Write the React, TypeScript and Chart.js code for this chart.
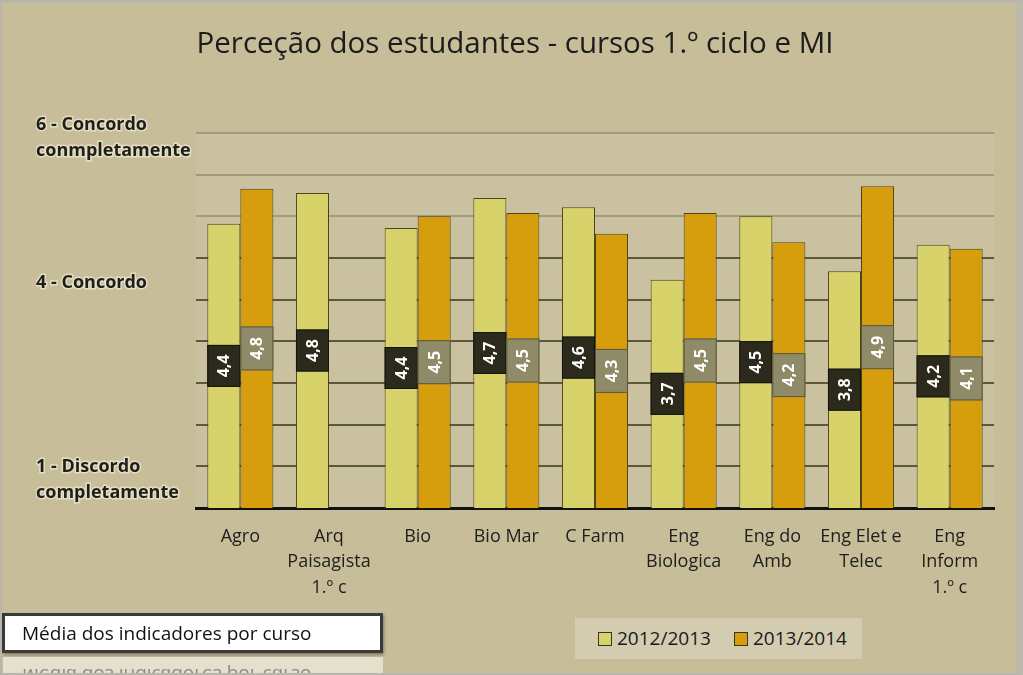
import React, { useEffect, useRef } from "react";
import { Chart, registerables } from "chart.js";

Chart.register(...registerables);

const categories: string[][] = [
  ["Agro"],
  ["Arq", "Paisagista", "1.º c"],
  ["Bio"],
  ["Bio Mar"],
  ["C Farm"],
  ["Eng", "Biologica"],
  ["Eng do", "Amb"],
  ["Eng Elet e", "Telec"],
  ["Eng", "Inform", "1.º c"],
];
const series2012: (number | null)[] = [4.41, 4.78, 4.36, 4.72, 4.61, 3.74, 4.5, 3.84, 4.16];
const series2013: (number | null)[] = [4.83, null, 4.5, 4.54, 4.29, 4.54, 4.19, 4.86, 4.11];
const seriesNames = ["2012/2013", "2013/2014"];
const axisLabelValues = [1.34, 3.7, 5.44];
const axisLabelTexts: string[][] = [
  ["1 - Discordo", "completamente"],
  ["4 - Concordo"],
  ["6 - Concordo", "conmpletamente"],
];
const titleText = "Perceção dos estudantes - cursos 1.º ciclo e MI";
const noteText = "Média dos indicadores por curso";

const COLORS = ["#D8D26A", "#D69D0C"];
const BOX_COLORS = ["#2C2A1C", "#8F8B68"];
const FONT = "'Open Sans', 'DejaVu Sans', sans-serif";

const plotBg = {
  id: "plotBg",
  beforeDraw(chart: any) {
    const { ctx, chartArea } = chart;
    ctx.save();
    ctx.fillStyle = "#CAC1A0";
    ctx.fillRect(chartArea.left, chartArea.top, chartArea.right - chartArea.left, chartArea.bottom - chartArea.top);
    ctx.restore();
  },
};

const valueBoxes = {
  id: "valueBoxes",
  afterDatasetsDraw(chart: any) {
    const { ctx, chartArea } = chart;
    chart.data.datasets.forEach((ds: any, di: number) => {
      const meta = chart.getDatasetMeta(di);
      meta.data.forEach((bar: any, i: number) => {
        const v = ds.data[i];
        if (v == null) return;
        const props = bar.getProps(["x", "y", "base", "width"], true);
        const base = Math.min(props.base, chartArea.bottom);
        const mid = (props.y + base) / 2;
        const w = props.width;
        const h = di === 0 ? 42 : 44;
        ctx.save();
        ctx.fillStyle = BOX_COLORS[di];
        ctx.fillRect(props.x - w / 2, mid - h / 2, w, h);
        ctx.strokeStyle = di === 0 ? "#15140c" : "#5d5838";
        ctx.lineWidth = 1;
        ctx.strokeRect(props.x - w / 2 + 0.5, mid - h / 2 + 0.5, w - 1, h - 1);
        ctx.translate(props.x, mid);
        ctx.rotate(-Math.PI / 2);
        ctx.fillStyle = "#FFFFFF";
        ctx.font = `bold 16px ${FONT}`;
        ctx.textAlign = "center";
        ctx.textBaseline = "middle";
        ctx.fillText(v.toFixed(1).replace(".", ","), 0, 1);
        ctx.restore();
      });
    });
  },
};

export default function App() {
  const canvasRef = useRef<HTMLCanvasElement | null>(null);

  useEffect(() => {
    if (!canvasRef.current) return;
    const chart = new Chart(canvasRef.current, {
      type: "bar",
      data: {
        labels: categories,
        datasets: [
          {
            label: seriesNames[0],
            data: series2012,
            backgroundColor: COLORS[0],
            borderColor: "#4f4418",
            borderWidth: 1,
            categoryPercentage: 0.745,
            barPercentage: 1,
          },
          {
            label: seriesNames[1],
            data: series2013,
            backgroundColor: COLORS[1],
            borderColor: "#4f4418",
            borderWidth: 1,
            categoryPercentage: 0.745,
            barPercentage: 1,
          },
        ],
      },
      options: {
        animation: false,
        responsive: false,
        maintainAspectRatio: false,
        layout: { padding: { left: 36, right: 29, top: 0, bottom: 0 } },
        plugins: {
          legend: { display: false },
          tooltip: { enabled: false },
          title: {
            display: true,
            text: titleText,
            color: "#1c1c1c",
            font: { family: FONT, size: 29.5, weight: "normal", lineHeight: 1.2 },
            padding: { top: 27.3, bottom: 70.3 },
          },
        },
        scales: {
          x: {
            grid: { display: false, drawTicks: false },
            border: { display: true, color: "#111111", width: 3 },
            ticks: {
              color: "#1e1e1e",
              font: { family: FONT, size: 18, lineHeight: 25.5 / 18 },
              padding: 16,
              maxRotation: 0,
              autoSkip: false,
            },
            afterFit: (s: any) => {
              s.height = 167;
            },
          },
          yl: {
            position: "left",
            min: 1,
            max: 5.5,
            grid: { display: false, drawTicks: false },
            border: { display: false },
            afterBuildTicks: (axis: any) => {
              axis.ticks = axisLabelValues.map((v) => ({ value: v }));
            },
            ticks: {
              autoSkip: false,
              crossAlign: "far",
              padding: 0,
              color: "#1e1e1e",
              textStrokeColor: "rgba(238,234,205,0.75)",
              textStrokeWidth: 3,
              font: { family: FONT, size: 18, weight: "bold", lineHeight: 26 / 18 },
              callback: (_v: any, i: number) => axisLabelTexts[i],
            },
            afterFit: (s: any) => {
              s.width = 160;
            },
          },
          y: {
            position: "left",
            min: 1,
            max: 5.5,
            ticks: { display: false, stepSize: 0.5 },
            border: { display: false },
            grid: {
              drawTicks: false,
              lineWidth: 2,
              color: (c: any) => (c.tick && c.tick.value > 4.01 ? "#A39A7A" : "#5E573C"),
            },
            afterFit: (s: any) => {
              s.width = 0;
            },
          },
        },
      } as any,
      plugins: [plotBg, valueBoxes],
    });
    return () => chart.destroy();
  }, []);

  return (
    <div
      style={{
        position: "fixed",
        left: 0,
        top: 0,
        width: 1023,
        height: 675,
        background: "#C7BD99",
        overflow: "hidden",
        fontFamily: FONT,
      }}
    >
      <canvas ref={canvasRef} width={1023} height={675} style={{ position: "absolute", left: 0, top: 0, width: 1023, height: 675 }} />
      {/* legend */}
      <div
        style={{
          position: "absolute",
          left: 575,
          top: 618,
          width: 287,
          height: 41,
          background: "#D3CCB0",
        }}
      >
        {seriesNames.map((name, i) => (
          <div key={name} style={{ position: "absolute", left: i === 0 ? 23 : 159, top: 0, height: 41, display: "flex", alignItems: "center" }}>
            <div
              style={{
                width: 14,
                height: 14,
                boxSizing: "border-box",
                border: "1px solid #3a3420",
                background: COLORS[i],
                marginRight: 5,
              }}
            />
            <span style={{ fontSize: 19, color: "#1a1a1a", lineHeight: "41px" }}>{name}</span>
          </div>
        ))}
      </div>
      {/* note box */}
      <div
        style={{
          position: "absolute",
          left: 2,
          top: 613,
          width: 381,
          height: 40,
          boxSizing: "border-box",
          border: "3px solid #3a3a3a",
          background: "#FFFFFF",
          boxShadow: "1px 2px 3px rgba(0,0,0,0.35)",
          paddingLeft: 17,
          fontSize: 19,
          lineHeight: "34px",
          color: "#111",
          whiteSpace: "nowrap",
        }}
      >
        {noteText}
      </div>
      {/* reflection */}
      <div
        style={{
          position: "absolute",
          left: 3,
          top: 657,
          width: 380,
          height: 18,
          overflow: "hidden",
          background: "#E4E0CE",
        }}
      >
        <div
          style={{
            position: "absolute",
            left: -1,
            top: -4,
            width: 381,
            height: 40,
            transform: "scaleY(-1)",
            paddingLeft: 20,
            fontSize: 19,
            lineHeight: "34px",
            color: "#8c8a80",
            whiteSpace: "nowrap",
            boxSizing: "border-box",
          }}
        >
          {noteText}
        </div>
      </div>
      {/* frame */}
      <div
        style={{
          position: "absolute",
          left: 0,
          top: 0,
          width: 1023,
          height: 675,
          boxSizing: "border-box",
          borderTop: "3px solid #B8B5AA",
          borderLeft: "2px solid #B8B5AA",
          borderRight: "7px solid #BDB9AC",
          borderBottom: "2px solid #B8B5AA",
          pointerEvents: "none",
        }}
      />
    </div>
  );
}
